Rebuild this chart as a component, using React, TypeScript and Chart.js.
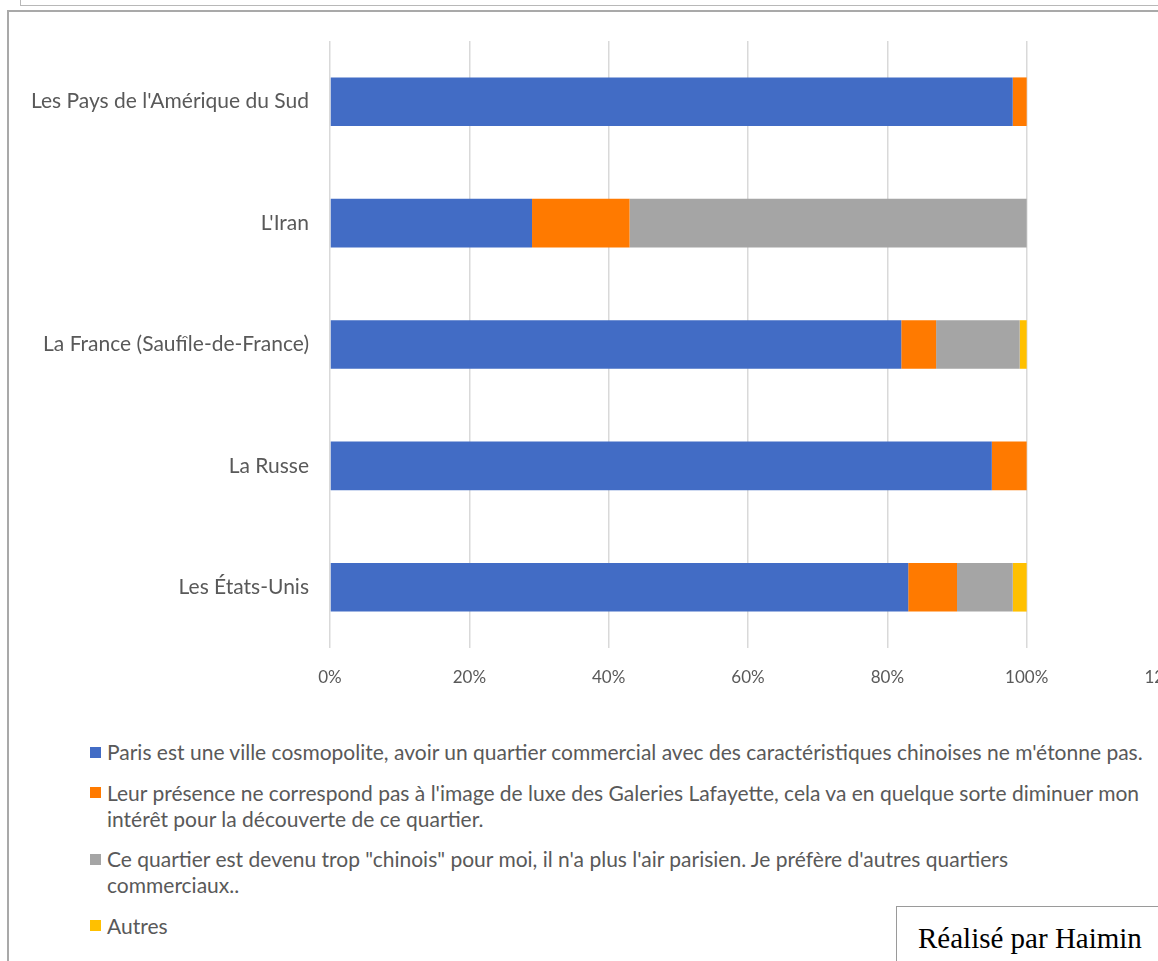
import React, { useEffect, useRef } from "react";
import { Chart, registerables } from "chart.js";

Chart.register(...registerables);

const categories = [
  "Les Pays de l'Amérique du Sud",
  "L'Iran",
  "La France (Saufîle-de-France)",
  "La Russe",
  "Les États-Unis",
];

const seriesNames = [
  "Paris est une ville cosmopolite, avoir un quartier commercial avec des caractéristiques chinoises ne m'étonne pas.",
  "Leur présence ne correspond pas à l'image de luxe des Galeries Lafayette, cela va en quelque sorte diminuer mon\nintérêt pour la découverte de ce quartier.",
  "Ce quartier est devenu trop \"chinois\" pour moi, il n'a plus l'air parisien. Je préfère d'autres quartiers\ncommerciaux..",
  "Autres",
];

const parisValues = [98, 29, 82, 95, 83];
const luxeValues = [2, 14, 5, 5, 7];
const chinoisValues = [0, 57, 12, 0, 8];
const autresValues = [0, 0, 1, 0, 2];

const seriesColors = ["#426CC5", "#FF7A00", "#A5A5A5", "#FFC000"];

const xMin = 0;
const xMax = 120;
const xStep = 20;

const TEXT = "#595959";
const FONT = "Lato";

export default function App() {
  const ref = useRef<HTMLCanvasElement>(null);

  useEffect(() => {
    if (!ref.current) return;
    const values = [parisValues, luxeValues, chinoisValues, autresValues];
    const chart = new Chart(ref.current, {
      type: "bar",
      data: {
        labels: categories,
        datasets: values.map((v, i) => ({
          label: seriesNames[i],
          data: v,
          backgroundColor: seriesColors[i],
          borderWidth: 0,
          barPercentage: 0.4,
          categoryPercentage: 1,
        })),
      },
      options: {
        indexAxis: "y",
        animation: false,
        responsive: false,
        layout: { padding: { top: 28, right: 0, left: 0, bottom: 0 } },
        plugins: { legend: { display: false }, tooltip: { enabled: false } },
        scales: {
          x: {
            stacked: true,
            min: xMin,
            max: xMax,
            ticks: {
              stepSize: xStep,
              callback: (v: any) => `${v}%`,
              color: TEXT,
              font: { family: FONT, size: 17 },
              padding: 19,
              maxRotation: 0,
              autoSkip: false,
            },
            grid: { color: "#d9d9d9", lineWidth: 1.5, drawTicks: false },
            border: { display: false },
            afterFit: (s: any) => {
              s.height = 50;
              s.paddingRight = 0;
              s.paddingLeft = 0;
            },
          },
          y: {
            stacked: true,
            grid: { display: false },
            border: { display: false },
            ticks: {
              color: TEXT,
              font: { family: FONT, size: 21 },
              padding: 13,
            },
            afterFit: (s: any) => {
              s.width = 322;
              s.paddingTop = 0;
              s.paddingBottom = 0;
            },
          },
        },
      },
    });
    return () => chart.destroy();
  }, []);

  return (
    <div
      style={{
        position: "absolute",
        left: 0,
        top: 0,
        width: 1158,
        height: 961,
        overflow: "hidden",
        background: "#fff",
      }}
    >
      <div
        style={{
          position: "absolute",
          left: 20,
          top: -60,
          width: 1300,
          height: 64,
          border: "1.5px solid #b8b8b8",
        }}
      />
      <div
        style={{
          position: "absolute",
          left: 7,
          top: 10,
          width: 1300,
          height: 1100,
          border: "2px solid #a9a9a9",
        }}
      />
      <canvas
        ref={ref}
        width={1158}
        height={685}
        style={{ position: "absolute", left: 8, top: 13 }}
      />
      <div
        style={{
          position: "absolute",
          left: 90,
          top: 739,
          fontFamily: FONT,
          fontSize: 21,
          lineHeight: "26px",
          color: TEXT,
        }}
      >
        {seriesNames.map((n, i) => (
          <div key={i} style={{ display: "flex", marginBottom: 14.5 }}>
            <span
              style={{
                width: 11,
                height: 11,
                background: seriesColors[i],
                marginTop: 7.5,
                marginRight: 6,
                flex: "none",
              }}
            />
            <span style={{ whiteSpace: "pre" }}>{n}</span>
          </div>
        ))}
      </div>
      <div
        style={{
          position: "absolute",
          left: 896,
          top: 906,
          width: 400,
          height: 120,
          border: "1.5px solid #9a9a9a",
          background: "#fff",
        }}
      >
        <div
          style={{
            position: "absolute",
            left: 21,
            top: 13,
            fontFamily: "'Liberation Serif', 'Times New Roman', serif",
            fontSize: 29,
            lineHeight: "36px",
            color: "#000",
            whiteSpace: "nowrap",
          }}
        >
          Réalisé par Haimin
        </div>
      </div>
    </div>
  );
}
